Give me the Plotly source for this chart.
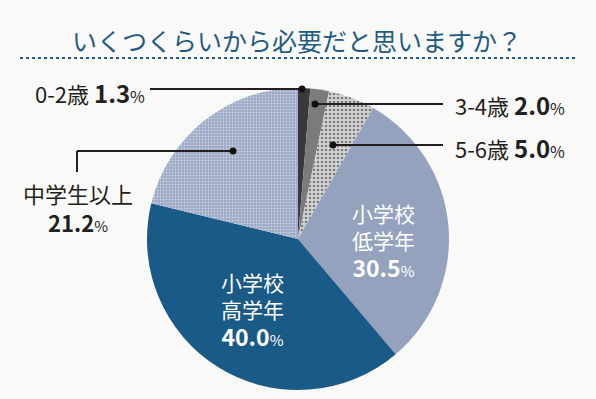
import plotly.graph_objects as go

categories = ["0-2歳", "3-4歳", "5-6歳", "小学校低学年", "小学校高学年", "中学生以上"]
values = [1.3, 2.0, 5.0, 30.5, 40.0, 21.2]
value_labels = ["1.3", "2.0", "5.0", "30.5", "40.0", "21.2"]

title_text = "いくつくらいから必要だと思いますか？"

W, H = 596, 399
BG = "#f9f9f7"
DARK = "#231f20"
FONT = "Noto Sans CJK JP"

colors = ["#3b3839", "#7b7b7b", "#d4d4d4", "#94a2be", "#1a5a87", "#9aa8c4"]
pattern_shapes = ["", "", ".", "", "", "."]
pattern_fg = ["#000", "#000", "#222222", "#000", "#000", "#ffffff"]
pattern_size = [4, 4, 4, 4, 4, 3]
pattern_solid = [0.3, 0.3, 0.35, 0.3, 0.3, 0.3]

cx, cy, r = 298, 239, 151

fig = go.Figure()
fig.add_trace(go.Pie(
    labels=categories,
    values=values,
    sort=False,
    direction="clockwise",
    rotation=0,
    textinfo="none",
    hoverinfo="label+percent",
    marker=dict(
        colors=colors,
        line=dict(width=0),
        pattern=dict(shape=pattern_shapes, fgcolor=pattern_fg, bgcolor=colors,
                     size=pattern_size, solidity=pattern_solid, fillmode="overlay"),
    ),
    domain=dict(x=[(cx - r) / W, (cx + r) / W], y=[(H - cy - r) / H, (H - cy + r) / H]),
    showlegend=False,
))

def px(x):
    return x / W

def py(y):
    return 1 - y / H

shapes = []
annotations = []

# title and dotted rule
annotations.append(dict(x=px(297), y=py(40), xref="paper", yref="paper", text=title_text,
                        showarrow=False, xanchor="center", yanchor="middle",
                        font=dict(family=FONT, size=25, color="#245b84")))
shapes.append(dict(type="line", xref="paper", yref="paper", x0=px(20), x1=px(578), y0=py(58), y1=py(58),
                   line=dict(color="#245b84", width=2, dash="dot")))

def line(x0, y0, x1, y1):
    shapes.append(dict(type="line", xref="paper", yref="paper", x0=px(x0), x1=px(x1), y0=py(y0), y1=py(y1),
                       line=dict(color=DARK, width=2)))

def dot(x, y):
    shapes.append(dict(type="circle", xref="paper", yref="paper", x0=px(x - 3.5), x1=px(x + 3.5),
                       y0=py(y - 3.5), y1=py(y + 3.5), fillcolor="#111", line=dict(width=0)))

def label(x, y, html, anchor="left", size=20, color=DARK):
    annotations.append(dict(x=px(x), y=py(y), xref="paper", yref="paper", text=html, showarrow=False,
                            xanchor=anchor, yanchor="middle", align="center",
                            font=dict(family=FONT, size=size, color=color)))

def val(v, size=22, pct=15):
    return f"<b><span style='font-size:{size}px'>{v}</span></b><span style='font-size:{pct}px'>%</span>"

# 0-2
line(150, 89, 302, 89)
dot(302, 89)
label(147, 92, f"{categories[0]} " + val(value_labels[0], 24, 16), anchor="right", size=22)
# 3-4
line(315, 104, 443, 104)
dot(315, 104)
label(453, 104, f"{categories[1]} " + val(value_labels[1], 24, 16), size=22)
# 5-6
line(333, 145, 443, 145)
dot(333, 145)
label(453, 147, f"{categories[2]} " + val(value_labels[2], 24, 16), size=22)
# 中学生以上
line(233, 151, 77, 151)
line(77, 151, 77, 172)
dot(233, 151)
label(78, 207, "中学生以上<br>" + val(value_labels[5], 22, 15), anchor="center", size=22)
# 低学年 inside
label(383, 241, "小学校<br>低学年<br>" + val(value_labels[3], 23, 15), anchor="center", size=21, color="white")
# 高学年 inside
label(252, 310, "小学校<br>高学年<br>" + val(value_labels[4], 23, 15), anchor="center", size=21, color="white")

fig.update_layout(
    width=W, height=H,
    margin=dict(l=0, r=0, t=0, b=0),
    paper_bgcolor=BG, plot_bgcolor=BG,
    shapes=shapes, annotations=annotations,
    font=dict(family=FONT),
)

fig.write_html("out.html", config={"displayModeBar": False},
               post_script="document.body.style.margin='0';document.body.style.background='#f9f9f7';")
